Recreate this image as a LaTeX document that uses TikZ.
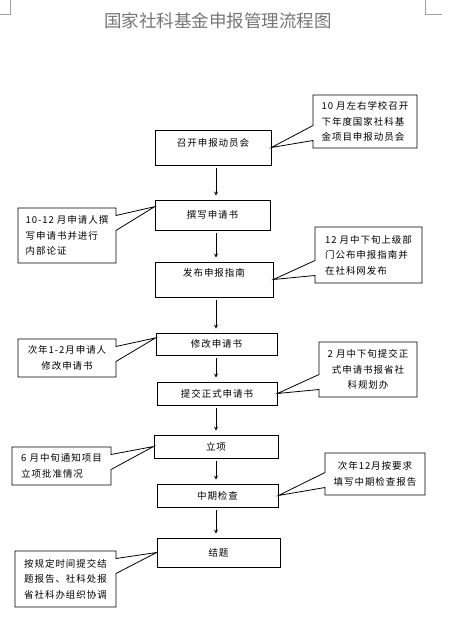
\documentclass[tikz,border=0pt]{standalone}
\usepackage{fontspec}
\usepackage{tikz}
\usetikzlibrary{shapes.callouts, calc}
\newfontfamily\cjk{Noto Sans CJK SC}
\newfontfamily\cjkspaced[LetterSpace=10]{Noto Sans CJK SC}
\definecolor{titlegray}{RGB}{118, 118, 118}
\definecolor{markgray}{RGB}{160, 160, 160}

\begin{document}
\begin{tikzpicture}[x=1pt, y=-1pt,
    font=\cjkspaced\fontsize{9.5}{15.5}\selectfont,
    stepbox/.style={draw, line width=0.8pt, rectangle, inner sep=2pt},
    notebox/.style={draw, line width=0.8pt, rectangle callout, callout pointer width=15pt, inner sep=2pt},
    flow/.style={->, >=stealth, line width=0.8pt, shorten <=3pt, shorten >=4pt}]
    \useasboundingbox (0,0) rectangle (457,617);

    % Page corners and title
    \draw[markgray] (10,0) -- (10,14) -- (0,14);
    \draw[markgray] (425,0) -- (425,14) -- (442,14);
    \node[titlegray, font=\cjk\fontsize{17.5}{20}\selectfont] (title) at (218,21) {国家社科基金申报管理流程图};

    % Main steps
    \coordinate (spine) at (216,0);
    \node[stepbox, minimum width=116pt, minimum height=35pt, text depth=10pt] (kickoff) at (213,147.5) {召开申报动员会};
    \node[stepbox, minimum width=115pt, minimum height=30pt] (draft) at (212.5,215) {撰写申请书};
    \node[stepbox, minimum width=118pt, minimum height=35pt, text depth=14pt] (guide) at (214,279.5) {发布申报指南};
    \node[stepbox, minimum width=121pt, minimum height=22pt] (revise) at (216.5,344) {修改申请书};
    \node[stepbox, minimum width=120pt, minimum height=23pt] (submit) at (217,393.5) {提交正式申请书};
    \node[stepbox, minimum width=124pt, minimum height=23pt] (approve) at (216,446.5) {立项};
    \node[stepbox, minimum width=121pt, minimum height=23pt] (midterm) at (217.5,495.5) {中期检查};
    \node[stepbox, minimum width=123pt, minimum height=29pt] (closing) at (218.5,552.5) {结题};

    % Flow arrows
    \draw[flow] (kickoff.south -| spine) -- (draft.north -| spine);
    \draw[flow] (draft.south -| spine) -- (guide.north -| spine);
    \draw[flow] (guide.south -| spine) -- (revise.north -| spine);
    \draw[flow] (revise.south -| spine) -- (submit.north -| spine);
    \draw[flow] (submit.south -| spine) -- (approve.north -| spine);
    \draw[flow] (approve.south -| spine) -- (midterm.north -| spine);
    \draw[flow] (midterm.south -| spine) -- (closing.north -| spine);

    % Notes
    \node[notebox, minimum width=104pt, minimum height=53pt, align=left,
        callout absolute pointer={(kickoff.east)}] (kickoffnote) at (365,121.5)
        {10 月左右学校召开\\下年度国家社科基\\金项目申报动员会};
    \node[notebox, minimum width=98pt, minimum height=55pt, align=left,
        callout absolute pointer={($(draft.north west)!0.23!(draft.south west)$)}] (draftnote) at (67,235.5)
        {10-12 月申请人撰\\写申请书并进行\\内部论证};
    \node[notebox, minimum width=107pt, minimum height=56pt, align=left,
        callout absolute pointer={(guide.east)}] (guidenote) at (368.5,255)
        {12 月中下旬上级部\\门公布申报指南并\\在社科网发布};
    \node[notebox, minimum width=98pt, minimum height=38pt, align=center,
        callout absolute pointer={($(revise.north west)!0.23!(revise.south west)$)}] (revisenote) at (67,358)
        {次年1-2月申请人\\修改申请书};
    \node[notebox, minimum width=98pt, minimum height=55pt, align=center,
        callout absolute pointer={(submit.east)}] (submitnote) at (368,369.5)
        {2 月中下旬提交正\\式申请书报省社\\科规划办};
    \node[notebox, minimum width=99pt, minimum height=38pt, align=left,
        callout absolute pointer={(approve.west)}] (approvenote) at (61.5,466)
        {6 月中旬通知项目\\立项批准情况};
    \node[notebox, minimum width=100pt, minimum height=42pt, align=center,
        callout absolute pointer={(midterm.east)}] (midtermnote) at (375,474)
        {次年12月按要求\\填写中期检查报告};
    \node[notebox, minimum width=101pt, minimum height=56pt, align=left,
        callout absolute pointer={(closing.west)}] (closingnote) at (65.5,579)
        {按规定时间提交结\\题报告、社科处报\\省社科办组织协调};
\end{tikzpicture}
\end{document}
